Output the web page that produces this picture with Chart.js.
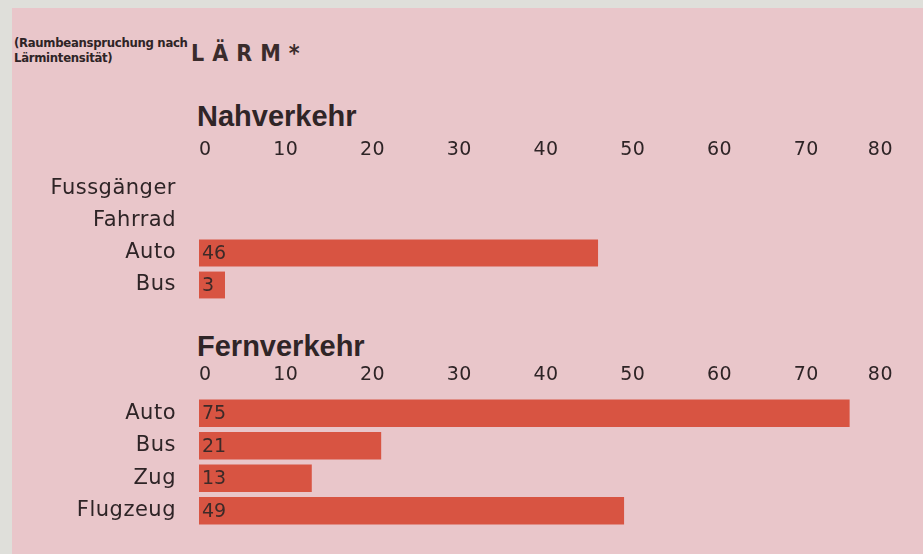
<!DOCTYPE html>
<html lang="de">
<head>
<meta charset="utf-8">
<script src="https://cdn.jsdelivr.net/npm/chart.js@4.4.1/dist/chart.umd.min.js"></script>
<style>
  html, body { margin: 0; padding: 0; }
  body { width: 923px; height: 554px; background: #dfdfda; position: relative; overflow: hidden; }
  .blatt { position: absolute; left: 12px; top: 8px; right: 0; bottom: 0; background: #e9c6ca; }
  .hinweis { position: absolute; left: 14px; top: 35px; font: bold 13px/15px "DejaVu Sans Condensed", "DejaVu Sans", sans-serif; color: #2e2426; letter-spacing: -0.3px; }
  .laerm { position: absolute; left: 191px; top: 42px; font: bold 23px/23px "DejaVu Sans Condensed", "DejaVu Sans", sans-serif; color: #3a2c2c; letter-spacing: 8px; }
  .titel { position: absolute; left: 197px; font: bold 29px/29px "Liberation Sans", Arial, sans-serif; color: #2f2527; }
  canvas { position: absolute; left: 0; }
</style>
</head>
<body>
<div class="blatt"></div>
<div class="hinweis">(Raumbeanspruchung nach<br>Lärmintensität)</div>
<div class="laerm">LÄRM*</div>
<div class="titel" style="top:102px">Nahverkehr</div>
<div class="titel" style="top:332px">Fernverkehr</div>
<canvas id="nah" width="923" height="171" style="top:130px"></canvas>
<canvas id="fern" width="923" height="173" style="top:354px"></canvas>
<script>
// Daten
var nahKategorien = ['Fussgänger', 'Fahrrad', 'Auto', 'Bus']
var nahWerte = [null, null, 46, 3]
var fernKategorien = ['Auto', 'Bus', 'Zug', 'Flugzeug']
var fernWerte = [75, 21, 13, 49]
var skalaMin = 0
var skalaMax = 80
var skalaSchritt = 10

var balkenFarbe = '#d85442'
var textFarbe = '#2e2426'

// Zahlen in die Balken schreiben
var wertePlugin = {
  id: 'werte',
  beforeDraw: function (chart) {
    chart.ctx.letterSpacing = '0.5px'
  },
  afterDatasetsDraw: function (chart) {
    var ctx = chart.ctx
    var meta = chart.getDatasetMeta(0)
    var daten = chart.data.datasets[0].data
    ctx.save()
    ctx.font = '19px "DejaVu Sans", sans-serif'
    ctx.fillStyle = '#3d2a28'
    ctx.textAlign = 'left'
    ctx.textBaseline = 'middle'
    ctx.letterSpacing = '0px'
    meta.data.forEach(function (bar, i) {
      if (daten[i] === null) return
      ctx.fillText(String(daten[i]), bar.base + 3, bar.y + 1)
    })
    ctx.restore()
  },
}

function baueDiagramm(id, kategorien, werte, tickAbstand) {
  var ctx = document.getElementById(id).getContext('2d')
  return new Chart(ctx, {
    type: 'bar',
    data: {
      labels: kategorien,
      datasets: [
        {
          data: werte,
          backgroundColor: balkenFarbe,
          borderWidth: 0,
          barPercentage: 0.84,
          categoryPercentage: 1,
        },
      ],
    },
    options: {
      indexAxis: 'y',
      responsive: false,
      animation: false,
      layout: { padding: { left: 0, right: 30, top: 0, bottom: 0 } },
      plugins: {
        legend: { display: false },
        tooltip: { enabled: false },
      },
      scales: {
        x: {
          position: 'top',
          min: skalaMin,
          max: skalaMax,
          grid: { display: false, drawTicks: false },
          border: { display: false },
          afterFit: function (s) { s.height = 43 },
          ticks: {
            stepSize: skalaSchritt,
            align: 'inner',
            padding: tickAbstand,
            color: textFarbe,
            font: { family: 'DejaVu Sans', size: 19 },
          },
        },
        y: {
          grid: { display: false, drawTicks: false },
          border: { display: false },
          afterFit: function (s) {
            s.width = 199
            s.paddingTop = 0
            s.paddingBottom = 0
          },
          ticks: {
            autoSkip: false,
            padding: 23,
            color: textFarbe,
            font: { family: 'DejaVu Sans', size: 21 },
          },
        },
      },
    },
    plugins: [wertePlugin],
  })
}

baueDiagramm('nah', nahKategorien, nahWerte, 12)
baueDiagramm('fern', fernKategorien, fernWerte, 11)
</script>
</body>
</html>
